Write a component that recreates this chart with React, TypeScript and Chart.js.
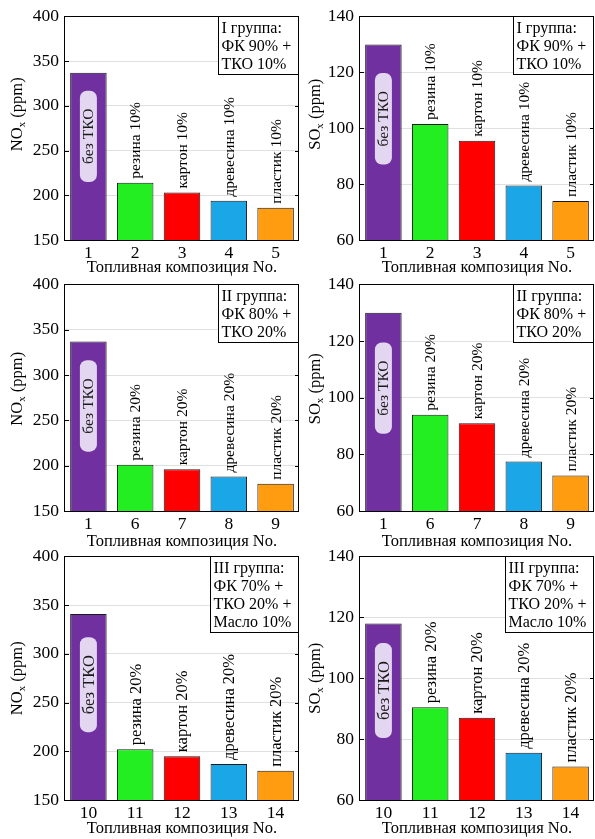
import React, { useEffect, useRef } from "react";
import { Chart, registerables } from "chart.js";
Chart.register(...registerables);

const FONT = '"Liberation Serif", "Times New Roman", serif';

const categories1 = ["1", "2", "3", "4", "5"];
const categories2 = ["1", "6", "7", "8", "9"];
const categories3 = ["10", "11", "12", "13", "14"];

const nox1 = [337, 214, 203, 194, 186];
const sox1 = [130, 101.5, 95.5, 79.5, 74];
const nox2 = [337, 201, 196, 188, 180];
const sox2 = [130, 94, 91, 77.5, 72.5];
const nox3 = [341, 202, 195, 187, 180];
const sox3 = [118, 90.5, 87, 75.5, 71];

const barLabels10 = ["без ТКО", "резина 10%", "картон 10%", "древесина 10%", "пластик 10%"];
const barLabels20 = ["без ТКО", "резина 20%", "картон 20%", "древесина 20%", "пластик 20%"];

const group1 = ["I группа:", "ФК 90% +", "ТКО 10%"];
const group2 = ["II группа:", "ФК 80% +", "ТКО 20%"];
const group3 = ["III группа:", "ФК 70% +", "ТКО 20% +", "Масло 10%"];

const noxTicks = [150, 200, 250, 300, 350, 400];
const soxTicks = [60, 80, 100, 120, 140];

const barColors = ["#7030a0", "#22ee22", "#ff0000", "#1ba6e8", "#ff9c10"];
const xTitle = "Топливная композиция No.";

type Cfg = {
  left: number; top: number; w: number; h: number;
  plot: { l: number; t: number; r: number; b: number };
  labels: string[]; values: number[]; ticks: number[];
  gas: string; barLabels: string[]; group: string[]; labelFont: number; yShift: number;
};

const rows = [
  { top: 0, h: 278, t: 16, b: 240, lf: 15.5, ys: -14 },
  { top: 268, h: 284, t: 15, b: 243, lf: 15.5, ys: -9 },
  { top: 540, h: 299, t: 12, b: 260, lf: 16.5, ys: 0 },
];
const cols = [
  { left: 0, w: 300, l: 65, r: 299 },
  { left: 298, w: 297, l: 62, r: 296 },
];

function mk(ri: number, ci: number, labels: string[], values: number[], ticks: number[], gas: string, barLabels: string[], group: string[]): Cfg {
  const r = rows[ri], c = cols[ci];
  return {
    left: c.left, top: r.top, w: c.w, h: r.h,
    plot: { l: c.l, t: r.t, r: c.r, b: r.b },
    labels, values, ticks, gas, barLabels, group, labelFont: r.lf, yShift: r.ys,
  };
}

const panels: Cfg[] = [
  mk(0, 0, categories1, nox1, noxTicks, "NO", barLabels10, group1),
  mk(0, 1, categories1, sox1, soxTicks, "SO", barLabels10, group1),
  mk(1, 0, categories2, nox2, noxTicks, "NO", barLabels20, group2),
  mk(1, 1, categories2, sox2, soxTicks, "SO", barLabels20, group2),
  mk(2, 0, categories3, nox3, noxTicks, "NO", barLabels20, group3),
  mk(2, 1, categories3, sox3, soxTicks, "SO", barLabels20, group3),
];

function roundRect(ctx: CanvasRenderingContext2D, x: number, y: number, w: number, h: number, r: number) {
  ctx.beginPath();
  ctx.moveTo(x + r, y);
  ctx.lineTo(x + w - r, y);
  ctx.arcTo(x + w, y, x + w, y + r, r);
  ctx.lineTo(x + w, y + h - r);
  ctx.arcTo(x + w, y + h, x + w - r, y + h, r);
  ctx.lineTo(x + r, y + h);
  ctx.arcTo(x, y + h, x, y + h - r, r);
  ctx.lineTo(x, y + r);
  ctx.arcTo(x, y, x + r, y, r);
  ctx.closePath();
}

function decor(cfg: Cfg) {
  return {
    id: "decor",
    afterDatasetsDraw(chart: any) {
      const ctx: CanvasRenderingContext2D = chart.ctx;
      const a = chart.chartArea;
      const meta = chart.getDatasetMeta(0);
      meta.data.forEach((bar: any, i: number) => {
        const { x, y, base } = bar.getProps(["x", "y", "base"], true);
        const bottom = Math.min(base, a.bottom);
        const label = cfg.barLabels[i];
        ctx.save();
        ctx.font = `${cfg.labelFont}px ${FONT}`;
        if (i === 0) {
          const tw = ctx.measureText(label).width;
          const bh = tw + 36;
          const bw = 17;
          const cy = y + (bottom - y) * 0.38;
          ctx.fillStyle = "#e3d6f1";
          roundRect(ctx, x - bw / 2, cy - bh / 2, bw, bh, 7);
          ctx.fill();
          ctx.translate(x + 1, cy);
          ctx.rotate(-Math.PI / 2);
          ctx.fillStyle = "#1a1a1a";
          ctx.textAlign = "center";
          ctx.textBaseline = "middle";
          ctx.fillText(label, 0, 0);
        } else {
          ctx.translate(x + 1, y - 4);
          ctx.rotate(-Math.PI / 2);
          ctx.fillStyle = "#000";
          ctx.textAlign = "left";
          ctx.textBaseline = "middle";
          ctx.fillText(label, 0, 0);
        }
        ctx.restore();
      });
    },
    afterDraw(chart: any) {
      const ctx: CanvasRenderingContext2D = chart.ctx;
      const a = chart.chartArea;
      const ys = chart.scales.y;
      ctx.save();
      ctx.strokeStyle = "#000";
      ctx.lineWidth = 1;
      cfg.ticks.slice(1, -1).forEach((v) => {
        const py = Math.round(ys.getPixelForValue(v)) + 0.5;
        ctx.beginPath();
        ctx.moveTo(a.left, py);
        ctx.lineTo(a.left + 4, py);
        ctx.moveTo(a.right - 4, py);
        ctx.lineTo(a.right, py);
        ctx.stroke();
      });
      const L = Math.round(a.left) - 0.5, T = Math.round(a.top) - 0.5;
      const R = Math.round(a.right) - 0.5, B = Math.round(a.bottom) + 0.5;
      ctx.strokeRect(L, T, R - L, B - T);
      ctx.font = `16px ${FONT}`;
      const tw = Math.max(...cfg.group.map((s) => ctx.measureText(s).width));
      const lh = 18;
      const bw = Math.round(tw + 10);
      const bh = cfg.group.length * lh + 4;
      const bx = R - bw;
      const by = T;
      ctx.fillStyle = "#fff";
      ctx.fillRect(bx, by, bw, bh);
      ctx.strokeRect(bx, by, bw, bh);
      ctx.fillStyle = "#000";
      ctx.textAlign = "left";
      ctx.textBaseline = "middle";
      cfg.group.forEach((s, i) => ctx.fillText(s, bx + 3, by + 2 + lh * i + lh / 2 + 1));
      const cy = (a.top + a.bottom) / 2 + cfg.yShift;
      ctx.translate(18, cy);
      ctx.rotate(-Math.PI / 2);
      const big = `16.5px ${FONT}`, small = `11px ${FONT}`;
      ctx.font = big;
      const w1 = ctx.measureText(cfg.gas).width;
      const w3 = ctx.measureText(" (ppm)").width;
      ctx.font = small;
      const w2 = ctx.measureText("x").width;
      let sx = -(w1 + w2 + w3) / 2;
      ctx.font = big;
      ctx.fillText(cfg.gas, sx, 0);
      sx += w1;
      ctx.font = small;
      ctx.fillText("x", sx, 4);
      sx += w2;
      ctx.font = big;
      ctx.fillText(" (ppm)", sx, 0);
      ctx.restore();
    },
  };
}

function Panel({ cfg }: { cfg: Cfg }) {
  const ref = useRef<HTMLCanvasElement>(null);
  useEffect(() => {
    const t = cfg.ticks;
    const chart = new Chart(ref.current as HTMLCanvasElement, {
      type: "bar",
      data: {
        labels: cfg.labels,
        datasets: [
          {
            data: cfg.values,
            backgroundColor: barColors,
            borderColor: "#1a1a1a",
            borderWidth: 1,
            barPercentage: 0.78,
            categoryPercentage: 1,
          },
        ],
      },
      options: {
        responsive: false,
        animation: false,
        devicePixelRatio: 1,
        layout: { padding: { left: 0, top: cfg.plot.t, right: cfg.w - cfg.plot.r, bottom: 0 } },
        plugins: { legend: { display: false }, tooltip: { enabled: false } },
        scales: {
          x: {
            grid: { display: false, drawTicks: false },
            border: { display: false },
            ticks: { color: "#000", font: { family: FONT, size: 17.5 }, padding: 3 },
            title: {
              display: true,
              text: xTitle,
              color: "#000",
              font: { family: FONT, size: 16.5 },
              padding: { top: 0, bottom: 0 },
            },
            afterFit: (s: any) => {
              s.height = cfg.h - cfg.plot.b;
            },
          },
          y: {
            min: t[0],
            max: t[t.length - 1],
            ticks: { stepSize: t[1] - t[0], color: "#000", font: { family: FONT, size: 17.5 }, padding: 6 },
            grid: { color: "#e0e0e0", drawTicks: false },
            border: { display: false },
            afterFit: (s: any) => {
              s.width = cfg.plot.l;
            },
          },
        },
      } as any,
      plugins: [decor(cfg)],
    });
    return () => chart.destroy();
  }, []);
  return (
    <div style={{ position: "absolute", left: cfg.left, top: cfg.top, width: cfg.w, height: cfg.h }}>
      <canvas ref={ref} width={cfg.w} height={cfg.h} style={{ display: "block" }} />
    </div>
  );
}

export default function App() {
  return (
    <div style={{ position: "absolute", left: 0, top: 0, width: 595, height: 839, background: "#fff" }}>
      {panels.map((p, i) => (
        <Panel key={i} cfg={p} />
      ))}
    </div>
  );
}
